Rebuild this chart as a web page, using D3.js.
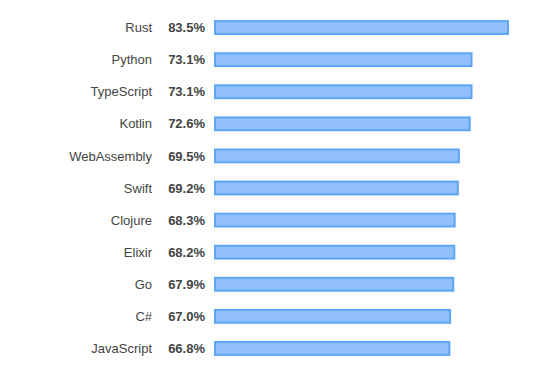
<!DOCTYPE html>
<html><head><meta charset="utf-8">
<script src="https://cdn.jsdelivr.net/npm/d3@7"></script>
<style>body{margin:0;background:#fff;font-family:"Liberation Sans",Arial,sans-serif;}</style>
</head><body>
<svg id="c" width="552" height="365"></svg>
<script>
const categories = ["Rust","Python","TypeScript","Kotlin","WebAssembly","Swift","Clojure","Elixir","Go","C#","JavaScript"];
const values = [83.5,73.1,73.1,72.6,69.5,69.2,68.3,68.2,67.9,67.0,66.8];

const svg = d3.select("#c");
const x = d3.scaleLinear().domain([0, 83.5]).range([215, 508]);
const y = d3.scaleBand().domain(categories).range([11.5, 364.5]).paddingInner(0.6).paddingOuter(0.3);

const g = svg.append("g");
categories.forEach((c, i) => {
  const yc = y(c) + y.bandwidth() / 2;
  g.append("rect")
    .attr("x", x(0)).attr("y", y(c))
    .attr("width", x(values[i]) - x(0)).attr("height", y.bandwidth())
    .attr("fill", "#90bff9").attr("stroke", "#5ea5f6").attr("stroke-width", 2);
  g.append("text").attr("x", 152).attr("y", yc).attr("dy", "0.36em")
    .attr("text-anchor", "end").attr("font-size", 13).attr("fill", "#444")
    .text(c);
  g.append("text").attr("x", 205).attr("y", yc).attr("dy", "0.36em")
    .attr("text-anchor", "end").attr("font-size", 13).attr("font-weight", "bold").attr("fill", "#444")
    .text(values[i].toFixed(1) + "%");
});
</script>
</body></html>
